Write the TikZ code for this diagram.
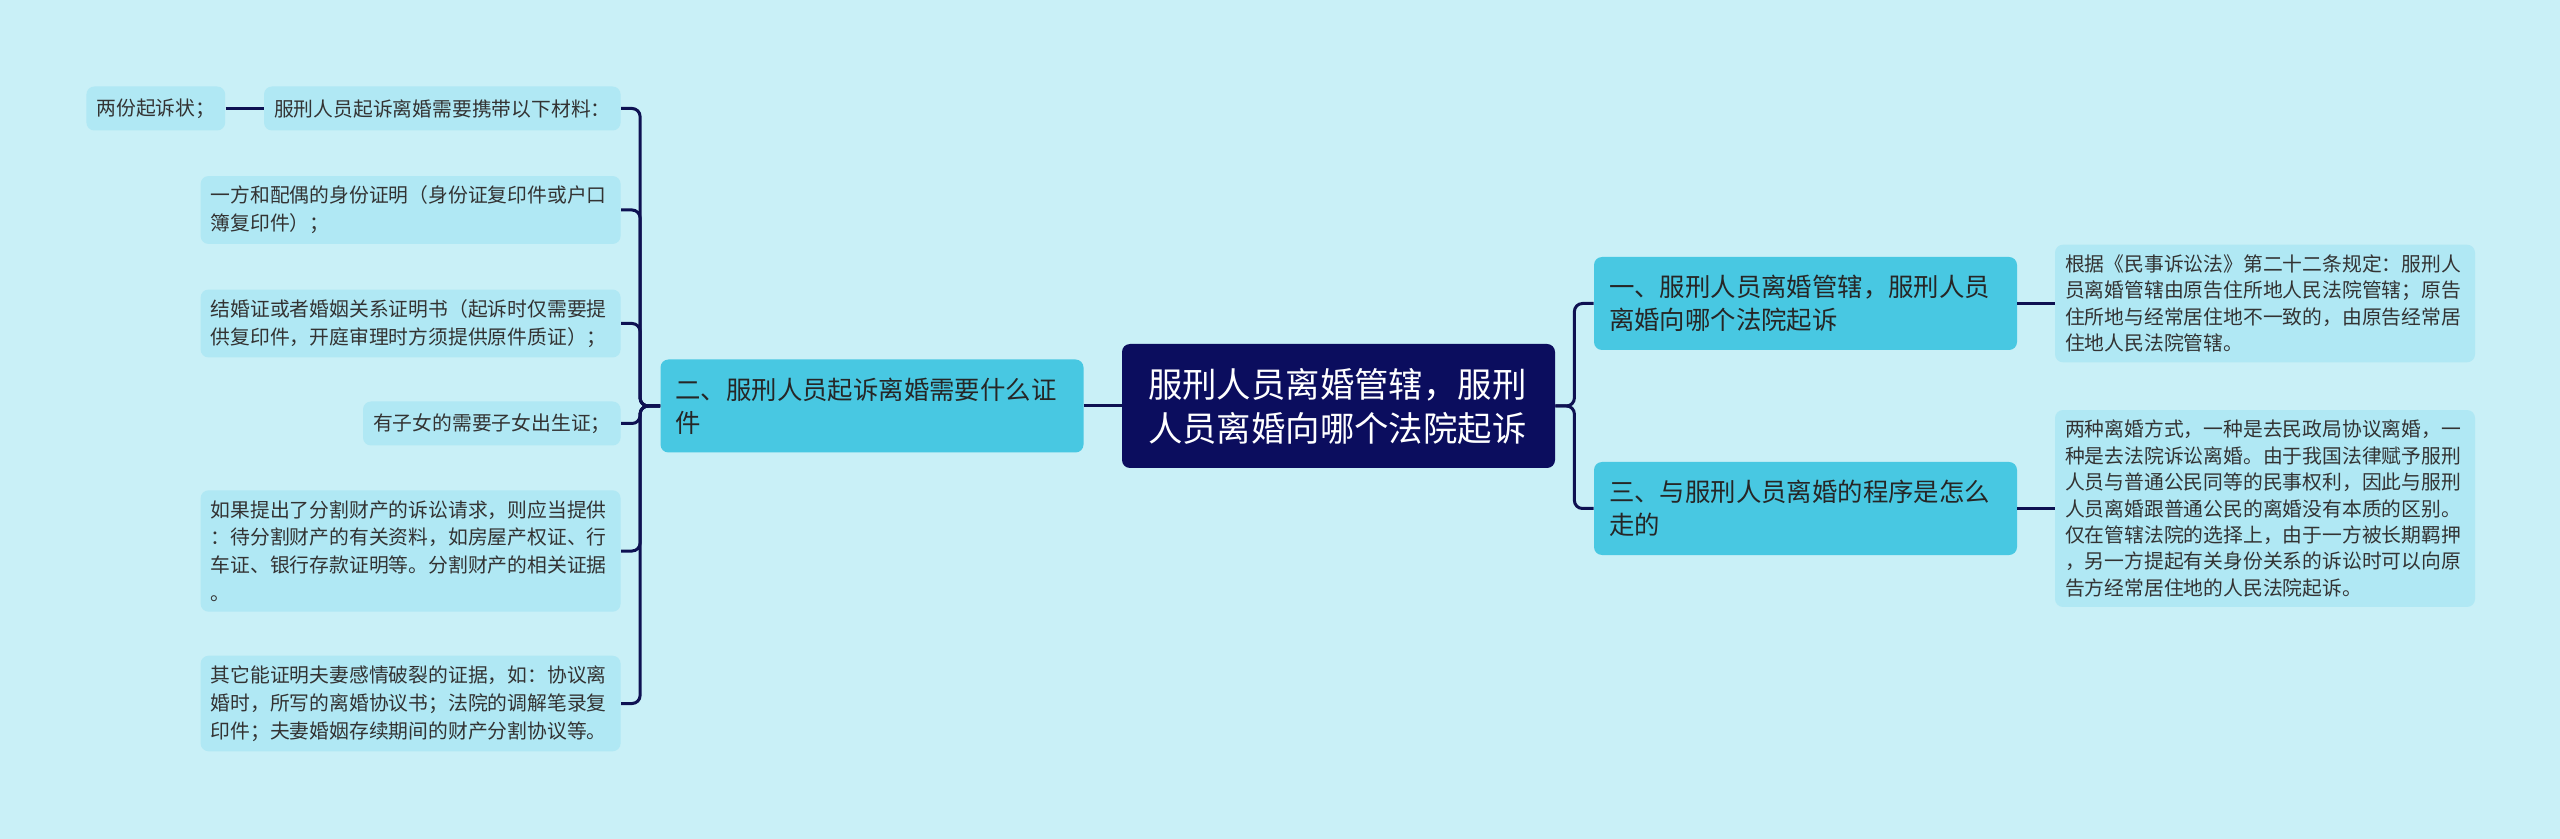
\documentclass[tikz,border=0pt]{standalone}
\usepackage{fontspec}
\setmainfont{Noto Sans CJK SC}
\usepackage{xcolor}
\usepackage{tikz}
\usetikzlibrary{positioning}

\definecolor{bgc}{HTML}{C9F0F7}
\definecolor{rootc}{HTML}{0B0D5E}
\definecolor{mainc}{HTML}{48C8E2}
\definecolor{leafc}{HTML}{B0E8F4}
\definecolor{linec}{HTML}{0E1152}
\definecolor{textc}{HTML}{333333}

\begin{document}
\begin{tikzpicture}[
    x=0.5pt, y=-0.5pt,
    link/.style={draw=linec, line width=1.5pt, rounded corners=4pt},
    root/.style={fill=rootc, text=white, rounded corners=4pt, align=left,
      text width=190.5pt, inner xsep=13pt, minimum height=62pt,
      font=\fontsize{17.2}{22}\selectfont},
    branch/.style={fill=mainc, text=black!85, rounded corners=4pt, align=left,
      text width=196.5pt, inner xsep=7.5pt, minimum height=46.5pt,
      font=\fontsize{12.7}{16.3}\selectfont},
    leaf/.style={fill=leafc, text=textc, rounded corners=4pt, align=left,
      inner xsep=5pt, inner ysep=5pt, minimum height=22pt,
      font=\fontsize{9.9}{13.9}\selectfont},
    wide/.style={leaf, text width=200pt},
    detail/.style={wide, font=\fontsize{9.9}{13.2}\selectfont}
  ]
  \fill[bgc] (0,0) rectangle (2560,839);

  % Centre
  \node[root] (root) at (1338.5,406) {服刑人员离婚管辖，服刑\\人员离婚向哪个法院起诉};

  % Left branch
  \node[branch] (two) at (872,406) {二、服刑人员起诉离婚需要什么证\\件};

  \node[leaf, anchor=east] (m1) at (621,108.5) {服刑人员起诉离婚需要携带以下材料：};
  \node[leaf, left=19pt of m1] (m0) {两份起诉状；};
  \node[wide, anchor=east] (m2) at (621,210) {一方和配偶的身份证明（身份证复印件或户口\\簿复印件）；};
  \node[wide, anchor=east] (m3) at (621,323.5) {结婚证或者婚姻关系证明书（起诉时仅需要提\\供复印件，开庭审理时方须提供原件质证）；};
  \node[leaf, anchor=east] (m4) at (621,423.5) {有子女的需要子女出生证；};
  \node[wide, anchor=east] (m5) at (621,551) {如果提出了分割财产的诉讼请求，则应当提供\\：待分割财产的有关资料，如房屋产权证、行\\车证、银行存款证明等。分割财产的相关证据\\。};
  \node[wide, anchor=east] (m6) at (621,703.5) {其它能证明夫妻感情破裂的证据，如：协议离\\婚时，所写的离婚协议书；法院的调解笔录复\\印件；夫妻婚姻存续期间的财产分割协议等。};

  % Right branch
  \node[branch] (one) at (1805.5,303.5) {一、服刑人员离婚管辖，服刑人员\\离婚向哪个法院起诉};
  \node[branch] (three) at (1805.5,508.5) {三、与服刑人员离婚的程序是怎么\\走的};

  \node[detail] (d1) at (2265,303.5) {根据《民事诉讼法》第二十二条规定：服刑人\\员离婚管辖由原告住所地人民法院管辖；原告\\住所地与经常居住地不一致的，由原告经常居\\住地人民法院管辖。};
  \node[detail] (d3) at (2265,508.5) {两种离婚方式，一种是去民政局协议离婚，一\\种是去法院诉讼离婚。由于我国法律赋予服刑\\人员与普通公民同等的民事权利，因此与服刑\\人员离婚跟普通公民的离婚没有本质的区别。\\仅在管辖法院的选择上，由于一方被长期羁押\\，另一方提起有关身份关系的诉讼时可以向原\\告方经常居住地的人民法院起诉。};

  % Links
  \draw[link] (two.east) -- (root.west);
  \foreach \n in {m1,m2,m3,m4,m5,m6}
    \draw[link] (two.west) -- ++(-20,0) |- (\n.east);
  \draw[link] (m0.east) -- (m1.west);
  \foreach \n in {one,three}
    \draw[link] (root.east) -- ++(19,0) |- (\n.west);
  \draw[link] (one.east) -- (d1.west);
  \draw[link] (three.east) -- (d3.west);
\end{tikzpicture}
\end{document}
